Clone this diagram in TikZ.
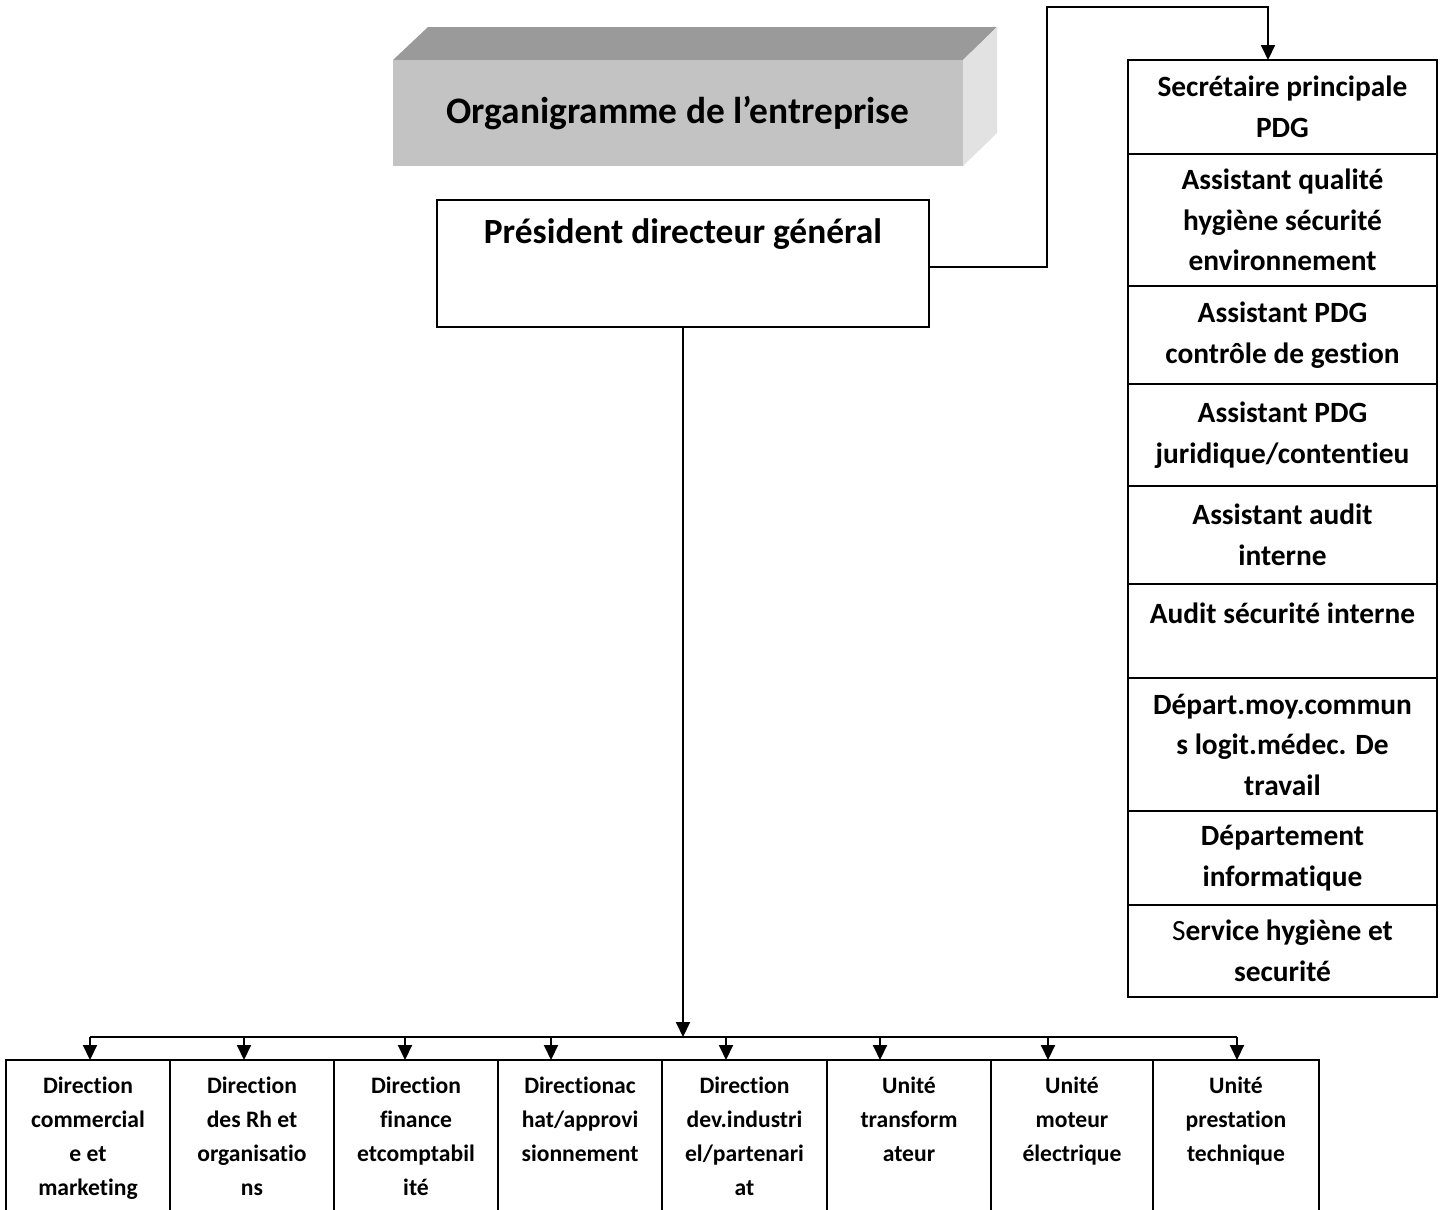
\documentclass[tikz,border=0pt]{standalone}
\usepackage{fontspec}
\setmainfont{Carlito}[Ligatures={NoCommon}]
\usetikzlibrary{arrows.meta}
\definecolor{topgray}{HTML}{9A9A9A}
\definecolor{frontgray}{HTML}{C3C3C3}
\definecolor{sidegray}{HTML}{E2E2E2}
\begin{document}
\begin{tikzpicture}[x=1pt,y=-1pt,
  ln/.style={line width=2pt},
  arr/.style={ln,-{Triangle[width=14pt,length=15pt]}},
  cell/.style={draw,ln,minimum width=309pt,anchor=north west,align=center,inner sep=0pt,outer sep=0pt,
    font=\fontsize{29.4}{40.5}\selectfont\bfseries},
  unitbox/.style={draw,ln,anchor=north west,minimum height=175pt,inner sep=0pt,outer sep=0pt},
  unittxt/.style={anchor=north,align=center,inner sep=0pt,
    font=\fontsize{23.6}{34}\selectfont\bfseries}]
\useasboundingbox (0,0) rectangle (1443,1210);
\clip (0,0) rectangle (1443,1210);
% title block
\fill[topgray] (393,60) -- (428,27) -- (997,27) -- (963,60) -- cycle;
\fill[sidegray] (963,60) -- (997,27) -- (997,133) -- (963,166) -- cycle;
\node[fill=frontgray,minimum width=570pt,minimum height=106pt,inner sep=0pt,
  font=\fontsize{37.4}{44}\selectfont\bfseries] (title) at (678,113) {Organigramme de l’entreprise};
% PDG
\node[draw,ln,minimum width=492pt,minimum height=127pt,inner sep=0pt,outer sep=0pt] (pdg) at (683,263.5) {};
\node[inner sep=0pt,font=\fontsize{35.4}{42}\selectfont\bfseries] (pdgt) at (683,234) {Président directeur général};
% right column
\node[cell,minimum height=94pt] (r1) at (1128,60) {Secrétaire principale\\PDG};
\node[cell,minimum height=132pt] (r2) at (r1.south west) {Assistant qualité\\hygiène sécurité\\environnement};
\node[cell,minimum height=98pt] (r3) at (r2.south west) {Assistant PDG\\contrôle de gestion};
\node[cell,minimum height=102pt] (r4) at (r3.south west) {Assistant PDG\\juridique/contentieu};
\node[cell,minimum height=98pt] (r5) at (r4.south west) {Assistant audit\\interne};
\node[cell,minimum height=94pt] (r6) at (r5.south west) {Audit sécurité interne\\[-4pt]\mbox{}};
\node[cell,minimum height=133pt] (r7) at (r6.south west) {Départ.moy.commun\\s logit.médec. De\\travail};
\node[cell,minimum height=94pt] (r8) at (r7.south west) {Département\\informatique};
\node[cell,minimum height=92pt] (r9) at (r8.south west) {{\mdseries S}ervice hygiène et\\securité};
% connector PDG -> right column
\coordinate (c1) at (1047,7);
\draw[arr] ([yshift=-3pt]pdg.east) -| (c1) -| ([xshift=-14.5pt]r1.north);
% bottom boxes
\node[unitbox,minimum width=164pt] (b1) at (6,1060) {};
\node[unitbox,minimum width=164pt] (b2) at (170,1060) {};
\node[unitbox,minimum width=164pt] (b3) at (334,1060) {};
\node[unitbox,minimum width=164pt] (b4) at (498,1060) {};
\node[unitbox,minimum width=165pt] (b5) at (662,1060) {};
\node[unitbox,minimum width=164pt] (b6) at (827,1060) {};
\node[unitbox,minimum width=162pt] (b7) at (991,1060) {};
\node[unitbox,minimum width=166pt] (b8) at (1153,1060) {};
\node[unittxt] (t1) at (88,1077) {Direction\\commercial\\e et\\marketing};
\node[unittxt] (t2) at (252,1077) {Direction\\des Rh et\\organisatio\\ns};
\node[unittxt] (t3) at (416,1077) {Direction\\finance\\etcomptabil\\ité};
\node[unittxt] (t4) at (580,1077) {Directionac\\hat/approvi\\sionnement};
\node[unittxt] (t5) at (744.5,1077) {Direction\\dev.industri\\el/partenari\\at};
\node[unittxt] (t6) at (909,1077) {Unité\\transform\\ateur};
\node[unittxt] (t7) at (1072,1077) {Unité\\moteur\\électrique};
\node[unittxt] (t8) at (1236,1077) {Unité\\prestation\\technique};
% bus
\coordinate (a1) at (90,1037);
\coordinate (a2) at (244,1037);
\coordinate (a3) at (405,1037);
\coordinate (a4) at (551,1037);
\coordinate (a5) at (726,1037);
\coordinate (a6) at (880,1037);
\coordinate (a7) at (1048,1037);
\coordinate (a8) at (1237,1037);
\draw[arr] (pdg.south) -- (pdg.south |- a1);
\draw[ln] (a1) -- (a8);
\draw[arr] (a1) -- (a1 |- b1.north);
\draw[arr] (a2) -- (a2 |- b2.north);
\draw[arr] (a3) -- (a3 |- b3.north);
\draw[arr] (a4) -- (a4 |- b4.north);
\draw[arr] (a5) -- (a5 |- b5.north);
\draw[arr] (a6) -- (a6 |- b6.north);
\draw[arr] (a7) -- (a7 |- b7.north);
\draw[arr] (a8) -- (a8 |- b8.north);
\end{tikzpicture}
\end{document}
